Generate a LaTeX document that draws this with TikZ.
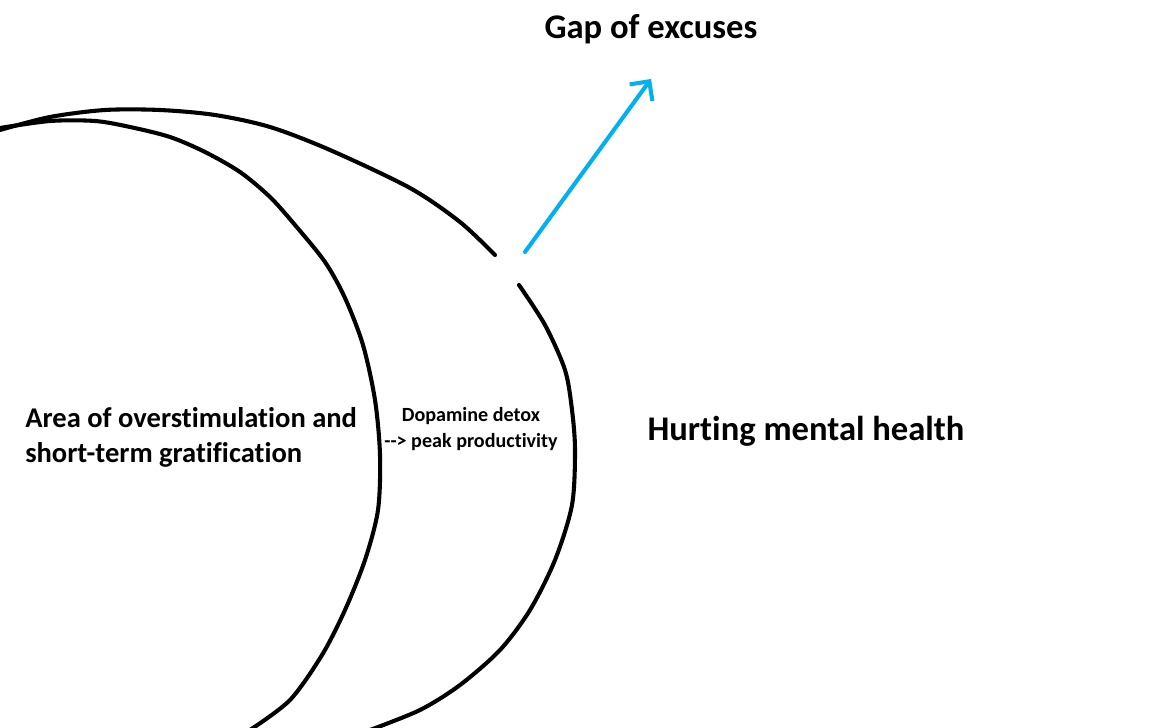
\documentclass[tikz,border=0pt]{standalone}
\usepackage{fontspec}
\setmainfont{Carlito}[Ligatures=NoCommon]
\usetikzlibrary{arrows.meta}
\definecolor{arrowblue}{RGB}{0,176,240}

\begin{document}
\begin{tikzpicture}[x=0.025cm, y=-0.025cm,
	curve/.style={black, line width=2.9pt, line cap=round, line join=round},
	label/.style={font=\bfseries, align=center, inner sep=0pt}]

	\useasboundingbox (0,0) rectangle (1164,728);

	\draw[curve] plot[smooth, tension=0.5] coordinates {(0,128) (50,121) (95,121) (130,127) (170,137) (205,152) (240,172) (270,197) (295,225) (325,262) (345,298) (363,345) (375,400) (380,455) (378,510) (365,560) (345,610) (322,655) (290,700) (250,730)};

	\draw[curve] plot[smooth, tension=0.5] coordinates {(0,130) (50,117) (105,110) (160,110) (215,115) (270,127) (330,150) (410,188) (460,222) (495,255)};
	\draw[curve] plot[smooth, tension=0.5] coordinates {(519,285) (545,325) (565,370) (572,410) (575,450) (572,505) (555,560) (530,610) (500,650) (460,685) (420,710) (370,730)};

	\coordinate (gapstart) at (525,252);
	\coordinate (gapend) at (651,79);
	\draw[arrowblue, line width=2.9pt, line cap=round, -{Straight Barb[length=10pt, width=20pt, line width=2.9pt]}] (gapstart) -- (gapend);

	\node[label, font=\bfseries\fontsize{24.6}{28}\selectfont] (gap) at (651,29) {Gap of excuses};
	\node[label, font=\bfseries\fontsize{24.6}{28}\selectfont] (hurt) at (806,431) {Hurting mental health};
	\node[label, font=\bfseries\fontsize{20.3}{24.8}\selectfont, align=left, anchor=west] (area) at (25,437) {Area of overstimulation and\\short-term gratification};
	\node[label, font=\bfseries\fontsize{14.3}{18.4}\selectfont] (detox) at (471,429) {Dopamine detox\\{-}{-}> peak productivity};
\end{tikzpicture}
\end{document}
